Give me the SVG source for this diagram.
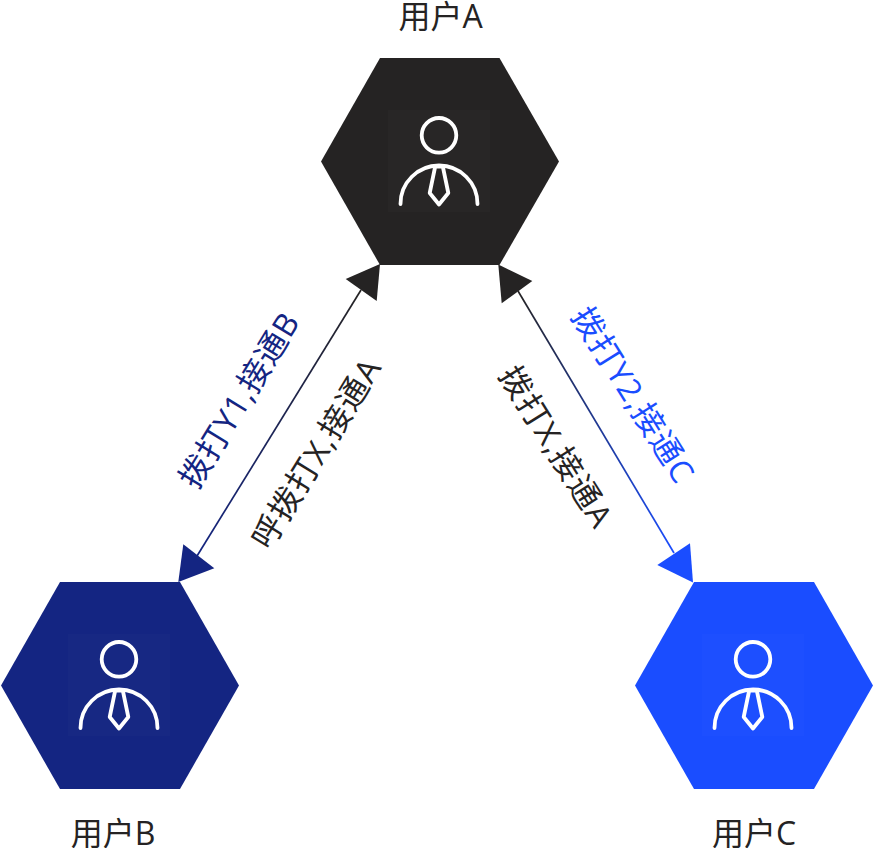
<svg xmlns="http://www.w3.org/2000/svg" width="874" height="848" viewBox="0 0 874 848">
<style>
text{font-family:"Open Sans","Noto Sans CJK SC",sans-serif;font-size:32px;text-anchor:middle;fill:#252323}
.navy{fill:#142582}
.blue{fill:#1a4dff}
.icon{fill:none;stroke:#fff;stroke-width:3.800;stroke-linecap:round;stroke-linejoin:round}
.sq{fill:#fff;fill-opacity:.015}
.ln{fill:none;stroke-width:1.700}
</style>
<defs>
<linearGradient id="g1" gradientUnits="userSpaceOnUse" x1="361" y1="290" x2="197" y2="556"><stop offset="0" stop-color="#252323"/><stop offset="1" stop-color="#142582"/></linearGradient>
<linearGradient id="g2" gradientUnits="userSpaceOnUse" x1="518" y1="291" x2="674" y2="553"><stop offset="0" stop-color="#252323"/><stop offset="1" stop-color="#1a4dff"/></linearGradient>
<g id="person">
<rect class="sq" x="-51" y="-51.500" width="102" height="102"/>
<circle class="icon" cx="0" cy="-26.200" r="17.300"/>
<path class="icon" d="M-38.500,42.500A38.500,38.500 0 0 1 38.500,42.500"/>
<path class="icon" d="M-3.800,5L3.800,5L9.300,31.500L0,43L-9.300,31.500Z"/>
</g>
</defs>
<g id="connectors">
<line class="ln" x1="361" y1="290" x2="197" y2="556" stroke="url(#g1)"/>
<line class="ln" x1="518" y1="291" x2="674" y2="553" stroke="url(#g2)"/>
<polygon points="380,264 345.700,279 376.700,301" fill="#252323"/>
<polygon points="178.300,582 183.300,544.300 214.300,568.300" fill="#142582"/>
<polygon points="498.300,264.500 532.300,281 501.700,303.300" fill="#252323"/>
<polygon points="693,582.500 690,543.300 657.300,565" fill="#1a4dff"/>
</g>
<g id="node-a">
<polygon points="380,58 499.500,58 559,161.500 499.500,265 380,265 321,161.500" fill="#252323"/>
<use href="#person" x="439" y="161.500"/>
<text x="440.500" y="27.500">用户A</text>
</g>
<g id="node-b">
<polygon points="60,582 180,582 239,685.500 180,789 60,789 1,685.500" fill="#142582"/>
<use href="#person" x="119" y="685.500"/>
<text x="113" y="844.500">用户B</text>
</g>
<g id="node-c">
<polygon points="694,582 814,582 873,685.500 814,789 694,789 635,685.500" fill="#1a4dff"/>
<use href="#person" x="753" y="685.500"/>
<text x="754" y="844.500">用户C</text>
</g>
<g id="labels">
<text class="navy" transform="translate(249,406) rotate(-58.500)" letter-spacing="0.700">拨打Y1,接通B</text>
<text transform="translate(326,459) rotate(-58.500)" letter-spacing="1.200">呼拨打X,接通A</text>
<text transform="translate(546.500,453) rotate(58)" letter-spacing="1.300">拨打X,接通A</text>
<text class="blue" transform="translate(623.500,401) rotate(58)" letter-spacing="1">拨打Y2,接通C</text>
</g>
</svg>
